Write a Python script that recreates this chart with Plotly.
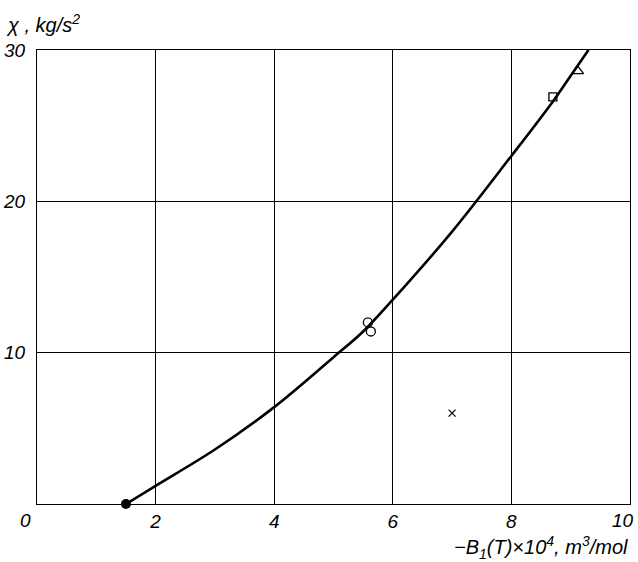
import plotly.graph_objects as go

# fitted curve
curve_x = [1.5, 2, 3, 4, 5, 5.5, 6, 7, 8, 8.7, 9, 9.3]
curve_y = [0, 1.2, 3.6, 6.4, 9.7, 11.4, 13.5, 18.0, 23.0, 26.6, 28.3, 30.0]

dot_x, dot_y = [1.5], [0]
circle_x, circle_y = [5.58, 5.63], [12.0, 11.4]
square_x, square_y = [8.7], [26.9]
tri_x, tri_y = [9.12], [28.6]
cross_x, cross_y = [7.0], [6.0]

x_ticks = [2, 4, 6, 8]
y_ticks = [10, 20, 30]

fam = "Liberation Sans Narrow, Liberation Sans, Arial"
font = dict(family=fam, size=19, color="black")
title_font = dict(family=fam, size=20, color="black")

fig = go.Figure()
fig.add_trace(go.Scatter(x=curve_x, y=curve_y, mode="lines", line=dict(color="black", width=2.6, shape="spline"), showlegend=False))
fig.add_trace(go.Scatter(x=dot_x, y=dot_y, mode="markers", marker=dict(symbol="circle", size=10, color="black"), showlegend=False, cliponaxis=False))
fig.add_trace(go.Scatter(x=circle_x, y=circle_y, mode="markers", marker=dict(symbol="circle-open", size=9, color="black", line=dict(width=1.3)), showlegend=False))
fig.add_trace(go.Scatter(x=square_x, y=square_y, mode="markers", marker=dict(symbol="square-open", size=8, color="black", line=dict(width=1.3)), showlegend=False))
fig.add_trace(go.Scatter(x=tri_x, y=tri_y, mode="markers", marker=dict(symbol="triangle-up-open", size=10, color="black", line=dict(width=1.3)), showlegend=False))
fig.add_trace(go.Scatter(x=cross_x, y=cross_y, mode="markers", marker=dict(symbol="x-thin-open", size=7, color="black", line=dict(width=1.2)), showlegend=False))

fig.update_layout(
    width=638, height=562,
    margin=dict(l=37, r=8, t=50, b=58),
    plot_bgcolor="white", paper_bgcolor="white",
    font=font,
    xaxis=dict(range=[0, 10], tickvals=x_ticks, ticktext=[f"<i>{v}</i>" for v in x_ticks],
               showgrid=True, gridcolor="black", gridwidth=1.4, zeroline=False, automargin=False,
               showline=True, linecolor="black", linewidth=1.3, mirror=True, ticks="", ticklabelstandoff=0, tickfont=font),
    yaxis=dict(range=[0, 30], tickvals=y_ticks, ticktext=[f"<i>{v}</i>" for v in y_ticks],
               showgrid=True, gridcolor="black", gridwidth=1.4, zeroline=False, automargin=False,
               showline=True, linecolor="black", linewidth=1.3, mirror=True, ticks="", ticklabelstandoff=7, tickfont=font),
    annotations=[
        dict(x=0, y=0, xref="x", yref="y", text="<i>0</i>", showarrow=False, xanchor="right", yanchor="top", xshift=-4, yshift=-4, font=font),
        dict(x=10, y=0, xref="x", yref="y", text="<i>10</i>", showarrow=False, xanchor="right", yanchor="top", xshift=6, yshift=-4, font=font),
        dict(x=0, y=1, xref="paper", yref="paper", text="<i>χ , kg/s<sup>2</sup></i>", showarrow=False,
             xanchor="left", yanchor="bottom", xshift=-33, yshift=12, font=title_font),
        dict(x=1, y=0, xref="paper", yref="paper", text="<i>−B<sub>1</sub>(T)×10<sup>4</sup>, m<sup>3</sup>/mol</i>", showarrow=False,
             xanchor="right", yanchor="top", xshift=0, yshift=-27, font=title_font),
    ],
)
fig.write_html("out.html", config={"displayModeBar": False},
               post_script="document.body.style.margin='0';document.body.style.padding='0';")
